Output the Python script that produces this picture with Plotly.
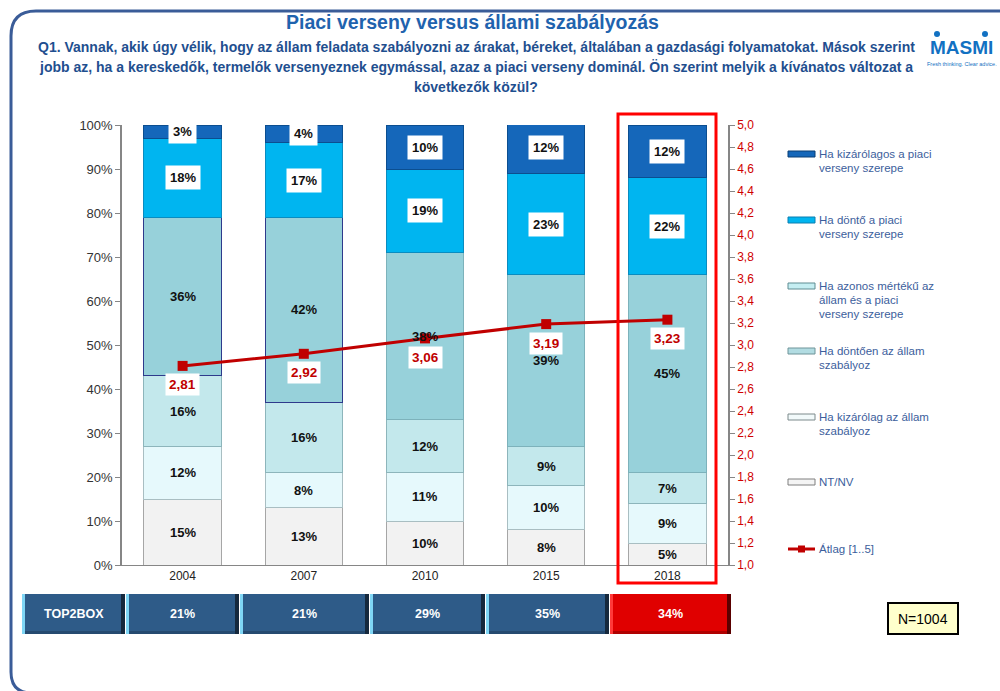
import plotly.graph_objects as go

# ---------------- data ----------------
years = ["2004", "2007", "2010", "2015", "2018"]
nt_nv = [15, 13, 10, 8, 5]
kizarolag_allam = [12, 8, 11, 10, 9]
dontoen_allam = [16, 16, 12, 9, 7]
azonos = [36, 42, 38, 39, 45]
donto_piaci = [18, 17, 19, 23, 22]
kizarolagos_piaci = [3, 4, 10, 12, 12]
atlag = [2.81, 2.92, 3.06, 3.19, 3.23]
top2box = ["21%", "21%", "29%", "35%", "34%"]
left_ticks = [0, 10, 20, 30, 40, 50, 60, 70, 80, 90, 100]
left_tick_labels = [f"{v}%" for v in left_ticks]

series_names = [
    "NT/NV",
    "Ha kizárólag az állam szabályoz",
    "Ha döntően az állam szabályoz",
    "Ha azonos mértékű az állam és a piaci verseny szerepe",
    "Ha döntő a piaci verseny szerepe",
    "Ha kizárólagos a piaci verseny szerepe",
]
series_values = [nt_nv, kizarolag_allam, dontoen_allam, azonos, donto_piaci, kizarolagos_piaci]
series_colors = ["#F2F2F2", "#E6F9FC", "#C3E8EC", "#97D1DA", "#00B5F0", "#1567BA"]
series_lines = [
    "#A6A6A6",
    "#A9BEC2",
    "#8DB5BB",
    ["#2E3A8C", "#2E3A8C", "#7DB2BB", "#7DB2BB", "#7DB2BB"],
    "#0A8CC0",
    "#0B4E90",
]
label_box = [False, False, False, False, True, True]

xpos = list(range(len(years)))

# plot area in pixels
PL, PR, PT, PB = 122, 728, 125, 565
W, H = 1000, 691


def xp(px):
    return (px - PL) / (PR - PL)


def yp(py):
    return (PB - py) / (PB - PT)


fig = go.Figure()

for name, vals, col, lc in zip(series_names, series_values, series_colors, series_lines):
    fig.add_trace(go.Bar(
        x=xpos, y=vals, name=name, width=0.64,
        marker=dict(color=col, line=dict(color=lc, width=1)),
        showlegend=False, hoverinfo="skip",
    ))

fig.add_trace(go.Scatter(
    x=xpos, y=atlag, yaxis="y2", mode="lines+markers",
    line=dict(color="#C00000", width=3),
    marker=dict(symbol="square", size=10, color="#C00000"),
    showlegend=False, hoverinfo="skip",
))

annotations = []
shapes = []

LBL_FONT = "Liberation Sans, Arial"

# segment labels
for si, vals in enumerate(series_values):
    for i in xpos:
        base = sum(series_values[k][i] for k in range(si))
        mid = base + vals[i] / 2
        ann = dict(
            x=i, y=mid, xref="x", yref="y", text=f"<b>{vals[i]}%</b>",
            showarrow=False, xanchor="center", yanchor="middle",
            font=dict(family=LBL_FONT, size=13, color="#111111"),
        )
        if label_box[si]:
            ann.update(bgcolor="white", borderpad=4)
        annotations.append(ann)

# average labels
for i in xpos:
    annotations.append(dict(
        x=i, y=atlag[i], xref="x", yref="y2",
        text="<b>" + f"{atlag[i]:.2f}".replace(".", ",") + "</b>",
        showarrow=False, yshift=-19, xanchor="center", yanchor="middle",
        font=dict(family=LBL_FONT, size=13.5, color="#C00000"),
        bgcolor="white", borderpad=3,
    ))

# highlight box around 2018
shapes.append(dict(type="rect", xref="paper", yref="paper", x0=xp(618), x1=xp(716),
                   y0=yp(583), y1=yp(114),
                   line=dict(color="#FF0000", width=3), fillcolor="rgba(0,0,0,0)"))

# outer frame
x0f, y0f, yb = xp(11), yp(11), yp(693)
shapes.append(dict(
    type="path", xref="paper", yref="paper",
    path=(f"M {xp(1005)},{y0f} L {xp(36)},{y0f} Q {x0f},{y0f} {x0f},{yp(36)} "
          f"L {x0f},{yp(672)} Q {x0f},{yb} {xp(32)},{yb} L {xp(1005)},{yb}"),
    line=dict(color="#3A5C98", width=3),
))

# title & subtitle
annotations.append(dict(x=xp(472), y=yp(22), xref="paper", yref="paper",
                        text="<b>Piaci verseny versus állami szabályozás</b>", showarrow=False,
                        font=dict(family="Liberation Sans, Arial", size=19.5, color="#1F63AE"),
                        xanchor="center", yanchor="middle"))
sub_lines = [
    "Q1. Vannak, akik úgy vélik, hogy az állam feladata szabályozni az árakat, béreket, általában a gazdasági folyamatokat. Mások szerint",
    "jobb az, ha a kereskedők, termelők versenyeznek egymással, azaz a piaci verseny dominál. Ön szerint melyik a kívánatos változat a",
    "következők közül?",
]
for ln, yy in zip(sub_lines, [47, 67, 87]):
    annotations.append(dict(x=xp(476), y=yp(yy), xref="paper", yref="paper",
                            text=f"<b>{ln}</b>", showarrow=False,
                            font=dict(family="Liberation Sans, Arial", size=14, color="#1F4F8F"),
                            xanchor="center", yanchor="middle"))

# MASMI logo
annotations.append(dict(x=xp(962), y=yp(47), xref="paper", yref="paper",
                        text="<b>MASMI</b>", showarrow=False,
                        font=dict(family="Liberation Sans, Arial", size=19, color="#1271C2"),
                        xanchor="center", yanchor="middle"))
annotations.append(dict(x=xp(962), y=yp(64), xref="paper", yref="paper",
                        text="Fresh thinking. Clear advice.", showarrow=False,
                        font=dict(family="Liberation Sans, Arial", size=5.5, color="#1271C2"),
                        xanchor="center", yanchor="middle"))
for cx in [937, 985]:
    shapes.append(dict(type="circle", xref="paper", yref="paper",
                       x0=xp(cx - 3), x1=xp(cx + 3), y0=yp(37), y1=yp(31),
                       fillcolor="#1271C2", line=dict(width=0)))

# legend (custom)
leg_items = [
    (["Ha kizárólagos a piaci", "verseny szerepe"], 154, "#1567BA", "#0B3F75"),
    (["Ha döntő a piaci", "verseny szerepe"], 220, "#00B5F0", "#0A7FB0"),
    (["Ha azonos mértékű az", "állam és a piaci", "verseny szerepe"], 286, "#C5EEF2", "#5E8C92"),
    (["Ha döntően az állam", "szabályoz"], 351, "#B2DCE2", "#6E9499"),
    (["Ha kizárólag az állam", "szabályoz"], 417, "#F2FAFB", "#7D8A8C"),
    (["NT/NV"], 482, "#F4F4F4", "#7F7F7F"),
]
for lines, yc, fc, lc in leg_items:
    shapes.append(dict(type="rect", xref="paper", yref="paper",
                       x0=xp(788), x1=xp(815), y0=yp(yc + 3), y1=yp(yc - 3),
                       fillcolor=fc, line=dict(color=lc, width=1)))
    for j, t in enumerate(lines):
        annotations.append(dict(x=xp(817), y=yp(yc + 14 * j), xref="paper", yref="paper",
                                text=t, showarrow=False, xanchor="left", yanchor="middle",
                                font=dict(family="Liberation Sans, Arial", size=11.5, color="#3C5E9C")))
# average legend
shapes.append(dict(type="line", xref="paper", yref="paper", x0=xp(788), x1=xp(815),
                   y0=yp(549), y1=yp(549), line=dict(color="#C00000", width=3)))
shapes.append(dict(type="rect", xref="paper", yref="paper", x0=xp(798), x1=xp(805),
                   y0=yp(552.5), y1=yp(545.5), fillcolor="#C00000", line=dict(width=0)))
annotations.append(dict(x=xp(817), y=yp(549), xref="paper", yref="paper",
                        text="Átlag [1..5]", showarrow=False, xanchor="left", yanchor="middle",
                        font=dict(family="Liberation Sans, Arial", size=11.5, color="#3C5E9C")))

# TOP2BOX table
cells = [(22, 125, "TOP2BOX"), (126, 239, top2box[0]), (240, 369, top2box[1]),
         (370, 485, top2box[2]), (486, 609, top2box[3]), (610, 731, top2box[4])]
ty0, ty1 = 594, 634
for k, (a, b, t) in enumerate(cells):
    red = (k == len(cells) - 1)
    main = "#E00000" if red else "#2E5B88"
    light = "#FF3A3A" if red else "#7FD6F5"
    dark = "#5A0000" if red else "#16293D"
    bottom = "#B00000" if red else "#254A70"
    shapes.append(dict(type="rect", xref="paper", yref="paper", x0=xp(a), x1=xp(b),
                       y0=yp(ty1), y1=yp(ty0), fillcolor=main, line=dict(width=0)))
    shapes.append(dict(type="rect", xref="paper", yref="paper", x0=xp(a), x1=xp(b),
                       y0=yp(ty1), y1=yp(ty1 - 3), fillcolor=bottom, line=dict(width=0)))
    shapes.append(dict(type="rect", xref="paper", yref="paper", x0=xp(a), x1=xp(a + 3),
                       y0=yp(ty1), y1=yp(ty0), fillcolor=light, line=dict(width=0)))
    shapes.append(dict(type="rect", xref="paper", yref="paper", x0=xp(b - 4), x1=xp(b),
                       y0=yp(ty1), y1=yp(ty0), fillcolor=dark, line=dict(width=0)))
    annotations.append(dict(x=xp((a + b) / 2), y=yp((ty0 + ty1) / 2), xref="paper", yref="paper",
                            text=f"<b>{t}</b>", showarrow=False, xanchor="center", yanchor="middle",
                            font=dict(family="Liberation Sans, Arial", size=12.5, color="white")))

# N box
shapes.append(dict(type="rect", xref="paper", yref="paper", x0=xp(888), x1=xp(958),
                   y0=yp(634), y1=yp(603), fillcolor="#FFFFCC", line=dict(color="black", width=2)))
annotations.append(dict(x=xp(923), y=yp(618.5), xref="paper", yref="paper",
                        text="N=1004", showarrow=False, xanchor="center", yanchor="middle",
                        font=dict(family="Liberation Sans, Arial", size=14, color="black")))

fig.update_layout(
    width=W, height=H,
    margin=dict(l=PL, r=W - PR, t=PT, b=H - PB, pad=0),
    barmode="stack",
    plot_bgcolor="white", paper_bgcolor="white",
    separators=",.",
    font=dict(family="Liberation Sans, Arial", color="#333333"),
    xaxis=dict(range=[-0.5, 4.5], tickvals=xpos, ticktext=years, showline=True,
               linecolor="#868686", linewidth=1, ticks="", showgrid=False, zeroline=False,
               tickfont=dict(size=12, color="#222222")),
    yaxis=dict(range=[0, 100], tickvals=left_ticks, ticktext=left_tick_labels, showline=True,
               linecolor="#868686", linewidth=1.5, ticks="outside", ticklen=5, tickcolor="#868686",
               showgrid=False, zeroline=False, tickfont=dict(size=13, color="#333333")),
    yaxis2=dict(range=[1, 5], dtick=0.2, tickformat=".1f", overlaying="y", side="right",
                showline=True, linecolor="#868686", linewidth=1.5, ticks="outside", ticklen=5,
                tickcolor="#868686", showgrid=False, zeroline=False,
                tickfont=dict(size=12, color="#D00000")),
    annotations=annotations, shapes=shapes,
)

fig.write_html("out.html", post_script="document.body.style.margin='0';",
               config={"displayModeBar": False})
